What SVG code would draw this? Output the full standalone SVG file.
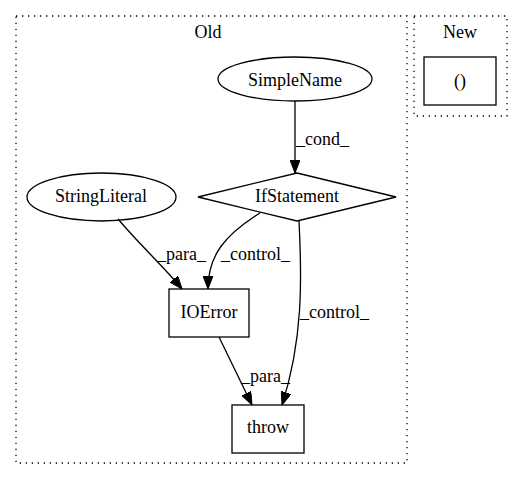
<svg xmlns="http://www.w3.org/2000/svg" width="527" height="480" viewBox="0 0 527 480">
<style>
text{font-family:"Liberation Serif","Times New Roman",serif;font-size:18px;fill:#000}
.c{text-anchor:middle}
.cl{fill:none;stroke:#000;stroke-width:1.3;stroke-dasharray:1.3,4.7}
.n{fill:none;stroke:#000;stroke-width:1.3}
.e{fill:none;stroke:#000;stroke-width:1.3;marker-end:url(#ah)}
</style>
<defs>
<marker id="ah" viewBox="0 0 13 10" refX="13" refY="5" markerWidth="13" markerHeight="10" markerUnits="userSpaceOnUse" orient="auto">
<path d="M0,0 L13,5 L0,10 z" fill="#000" stroke="#000" stroke-width="1"/>
</marker>
</defs>
<rect width="527" height="480" fill="#fff"/>
<g id="cluster_old">
<rect class="cl" x="16" y="16" width="391" height="447"/>
<text class="c" x="208" y="38">Old</text>
</g>
<g id="cluster_new">
<rect class="cl" x="414" y="16" width="93" height="100"/>
<text class="c" x="460" y="38">New</text>
</g>
<g id="edges">
<path class="e" d="M295,101 L295,173"/>
<text x="296" y="145">_cond_</text>
<path class="e" d="M118,219 C140,245 165,268 182,289"/>
<text x="157" y="260">_para_</text>
<path class="e" d="M260,213 C225,235 208,255 208,289"/>
<text x="221" y="260">_control_</text>
<path class="e" d="M299,221 C302,280 303,340 282,405"/>
<text x="300" y="318">_control_</text>
<path class="e" d="M219,337 L252,405"/>
<text x="241" y="382">_para_</text>
</g>
<g id="SimpleName">
<ellipse class="n" cx="295" cy="79" rx="77" ry="22"/>
<text class="c" x="295" y="86">SimpleName</text>
</g>
<g id="IfStatement">
<polygon class="n" points="297,173 396,197 297,221 198,197"/>
<text class="c" x="297" y="202">IfStatement</text>
</g>
<g id="StringLiteral">
<ellipse class="n" cx="101.5" cy="197" rx="74.5" ry="24"/>
<text class="c" x="101" y="202">StringLiteral</text>
</g>
<g id="IOError">
<rect class="n" x="169" y="289" width="80" height="48"/>
<text class="c" x="209" y="318">IOError</text>
</g>
<g id="throw">
<rect class="n" x="232" y="405" width="72" height="48"/>
<text class="c" x="268" y="433">throw</text>
</g>
<g id="paren">
<rect class="n" x="424" y="57" width="72" height="48"/>
<text class="c" x="460" y="87">()</text>
</g>
</svg>
